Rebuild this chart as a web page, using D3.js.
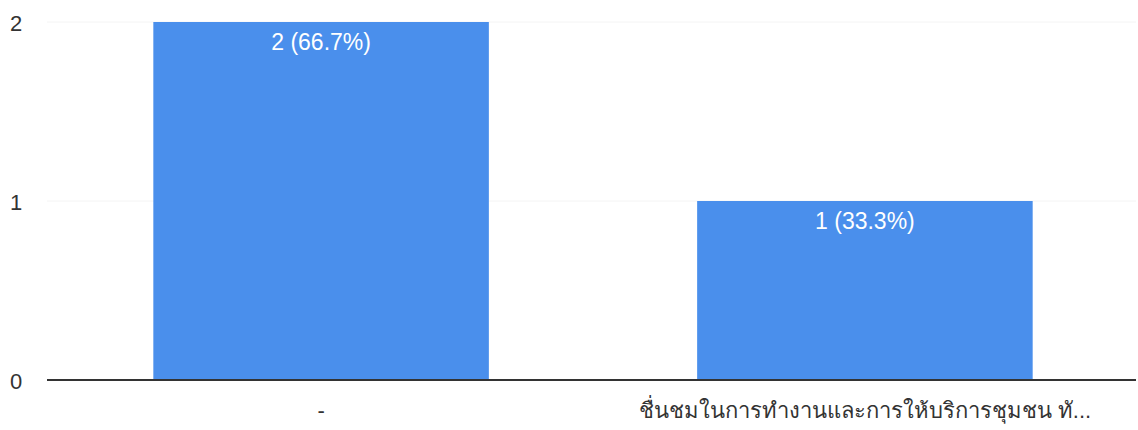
<!DOCTYPE html>
<html>
<head>
<meta charset="utf-8">
<script src="https://cdn.jsdelivr.net/npm/d3@7"></script>
<style>
  html, body { margin: 0; padding: 0; background: #fff; }
  svg text { font-family: Arial, "Liberation Sans", "Noto Sans", sans-serif; }
</style>
</head>
<body>
<svg id="chart" width="1138" height="430"></svg>
<script>
// Response counts per answer
const categories = ["-", "ชื่นชมในการทำงานและการให้บริการชุมชน ทั..."];
const counts = [2, 1];
const percents = ["66.7%", "33.3%"];
const yTicks = [0, 1, 2];

const svg = d3.select("#chart");
const margin = { left: 50, right: 2, top: 22, bottom: 50 };
const W = 1138, H = 430;
const baseY = 380;

const x = d3.scaleBand()
  .domain(categories)
  .range([margin.left, W - margin.right])
  .paddingInner(0.383)
  .paddingOuter(0.19);

const y = d3.scaleLinear()
  .domain([0, 2])
  .range([baseY, margin.top]);

// faint horizontal gridlines
svg.append("g")
  .selectAll("line")
  .data(yTicks.filter(d => d > 0))
  .join("line")
  .attr("x1", 47).attr("x2", W - 2)
  .attr("y1", d => y(d)).attr("y2", d => y(d))
  .attr("stroke", "#f4f4f4").attr("stroke-width", 1);

// y tick labels
svg.append("g")
  .selectAll("text")
  .data(yTicks)
  .join("text")
  .attr("x", 16)
  .attr("y", d => y(d) + 3)
  .attr("text-anchor", "middle")
  .attr("dominant-baseline", "middle")
  .attr("font-size", 22)
  .attr("fill", "#333")
  .text(d => d);

// bars
const data = categories.map((c, i) => ({ c, v: counts[i], p: percents[i] }));
svg.append("g")
  .selectAll("rect")
  .data(data)
  .join("rect")
  .attr("x", d => x(d.c))
  .attr("y", d => y(d.v))
  .attr("width", x.bandwidth())
  .attr("height", d => baseY - y(d.v))
  .attr("fill", "#4a8fec");

// value labels inside bars
svg.append("g")
  .selectAll("text")
  .data(data)
  .join("text")
  .attr("x", d => x(d.c) + x.bandwidth() / 2)
  .attr("y", d => y(d.v) + 28)
  .attr("text-anchor", "middle")
  .attr("font-size", 23)
  .attr("fill", "#fff")
  .text(d => `${d.v} (${d.p})`);

// baseline axis
svg.append("line")
  .attr("x1", 47).attr("x2", W - 2)
  .attr("y1", baseY).attr("y2", baseY)
  .attr("stroke", "#333").attr("stroke-width", 2);

// category labels
svg.append("g")
  .selectAll("text")
  .data(categories)
  .join("text")
  .attr("x", d => x(d) + x.bandwidth() / 2)
  .attr("y", 418)
  .attr("text-anchor", "middle")
  .attr("font-size", 22)
  .attr("fill", "#333")
  .text(d => d);
</script>
</body>
</html>
